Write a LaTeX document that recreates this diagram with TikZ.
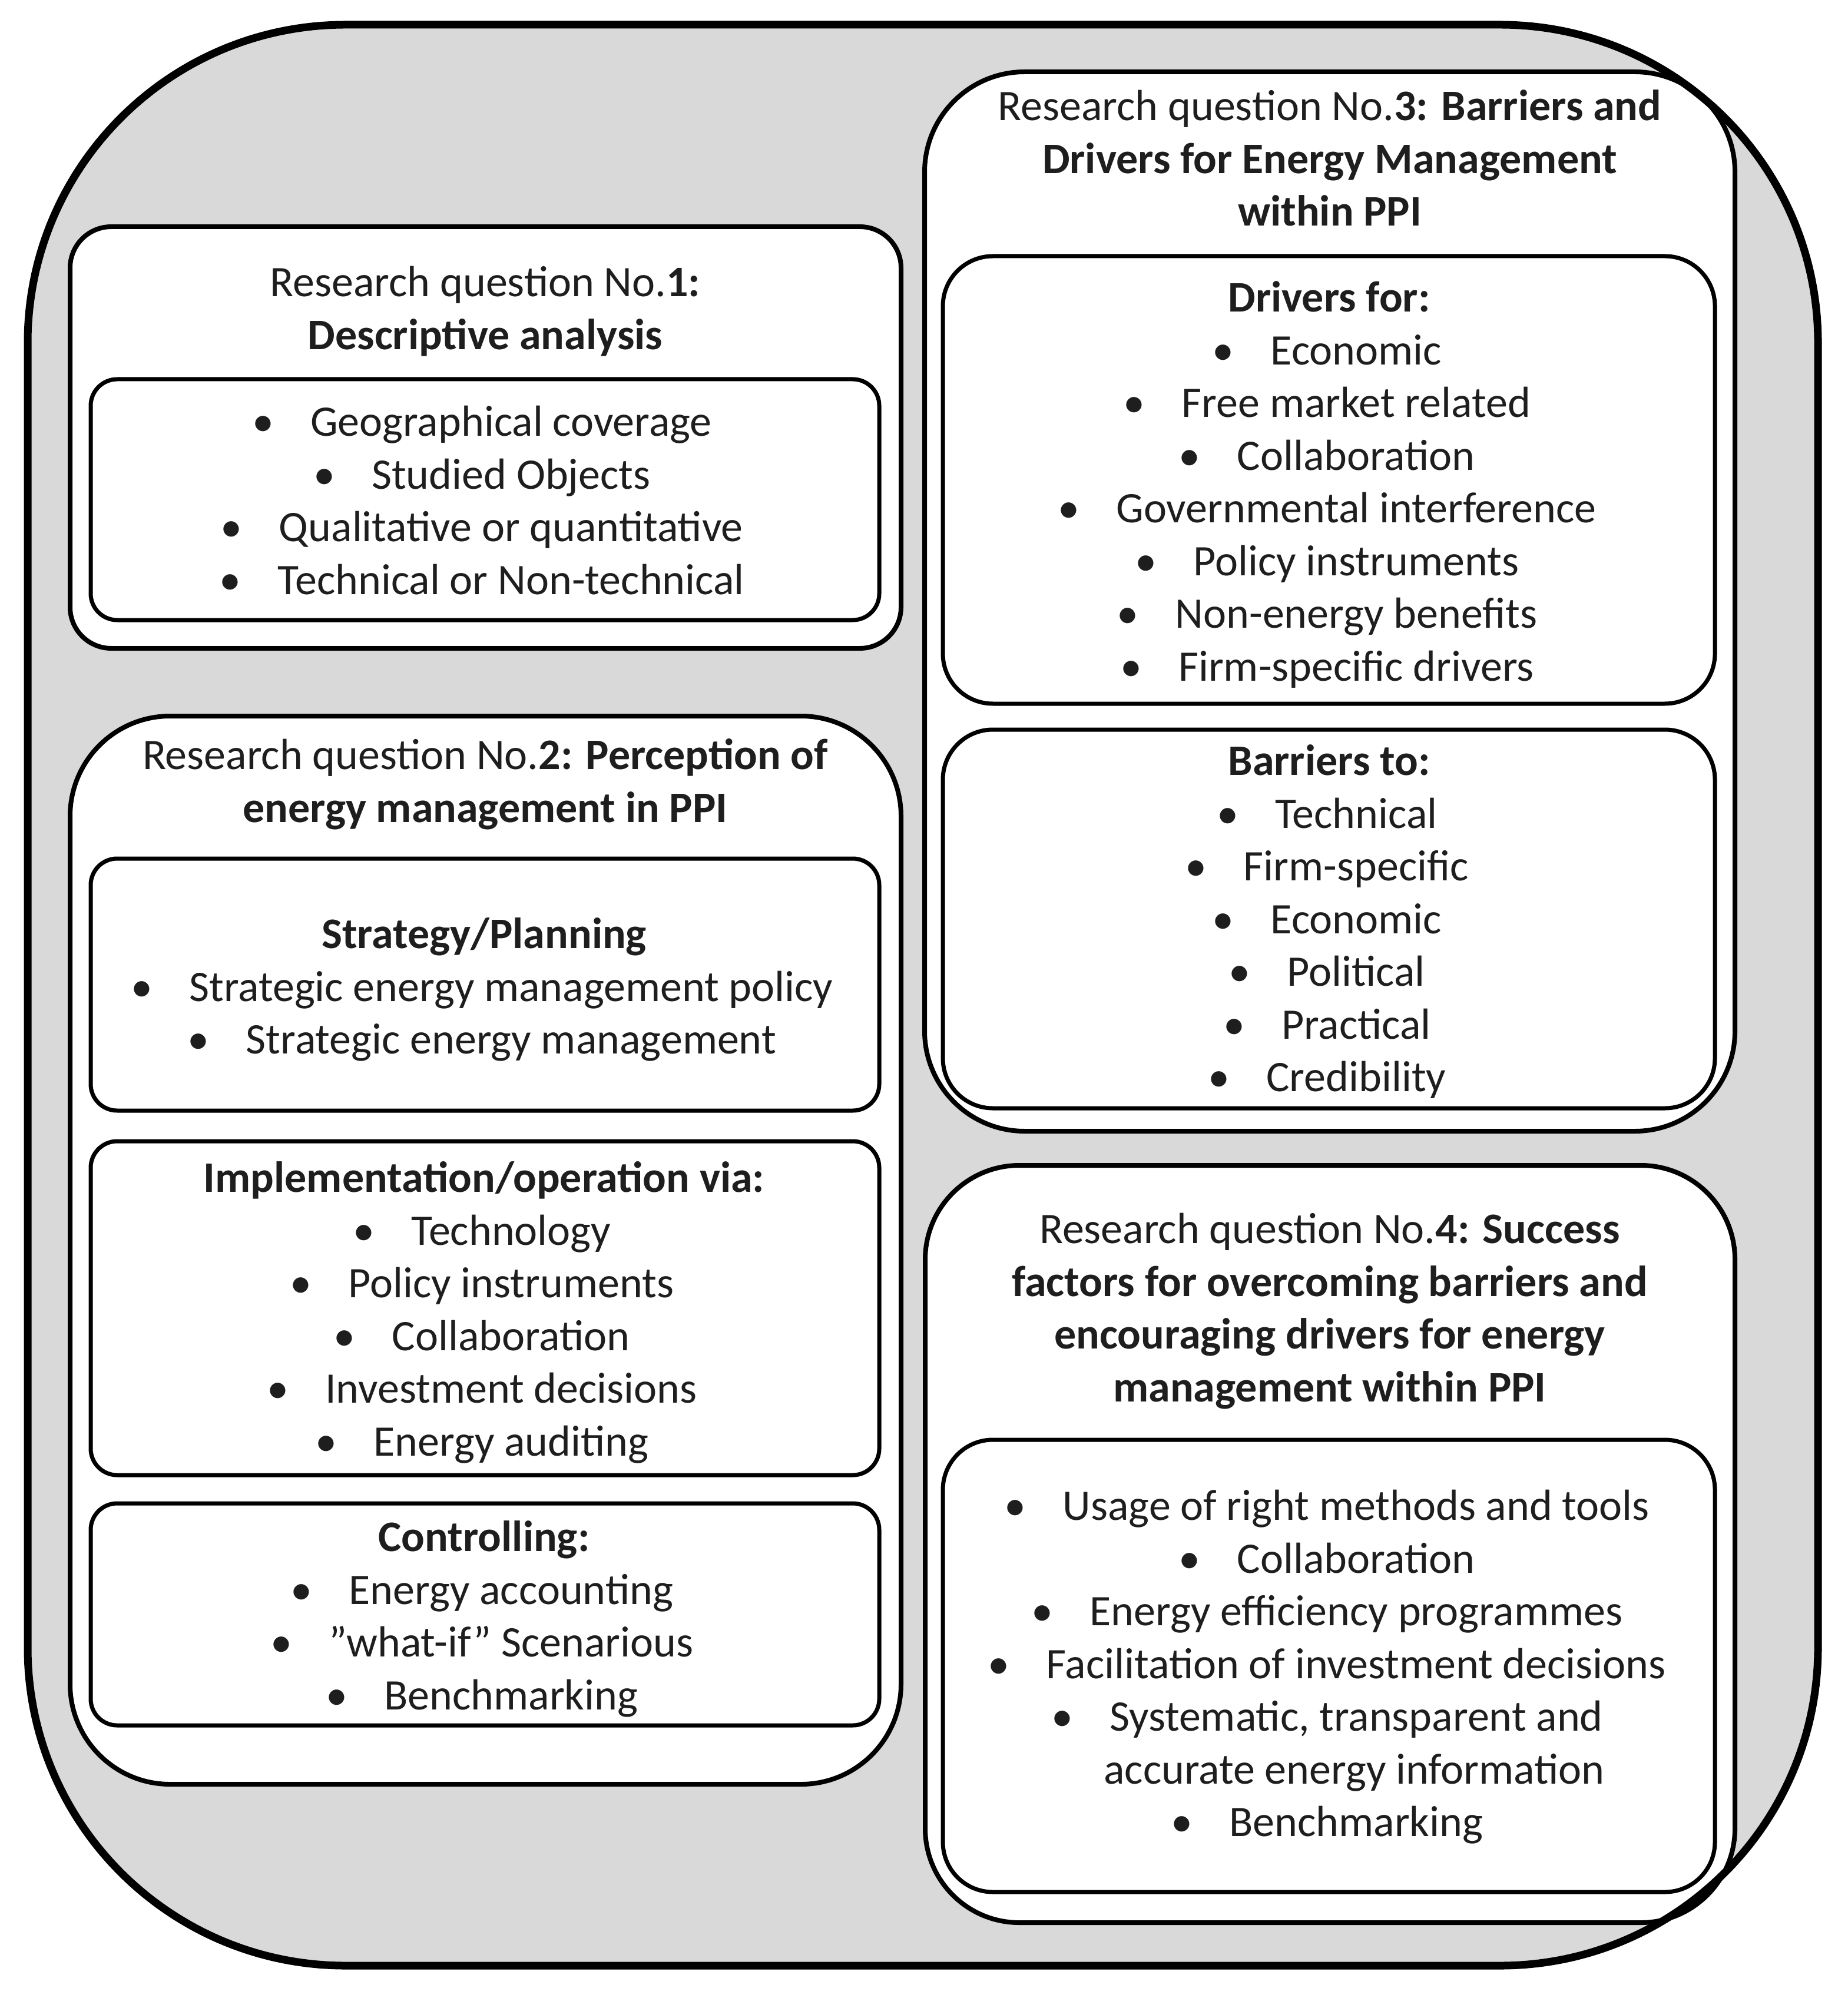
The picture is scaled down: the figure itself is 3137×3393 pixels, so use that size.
\documentclass[tikz,border=0pt]{standalone}
\usepackage{fontspec}
\setmainfont{Carlito}
\definecolor{outergray}{HTML}{D9D9D9}
\definecolor{txtcol}{HTML}{1E1E1E}
\newcommand{\bl}{\makebox[0.3em][c]{•}\hspace{0.94em}}
\begin{document}
\begin{tikzpicture}[x=0.2pt,y=-0.2pt]
\tikzset{
  outerline/.style={line width=2.6pt, rounded corners=108pt},
  rqbox/.style={draw, fill=white, line width=1.6pt},
  subbox/.style={draw, fill=white, line width=1.4pt},
  txt/.style={inner sep=0pt, align=center, anchor=north, text=txtcol,
    font=\fontsize{14.8}{17.9}\selectfont},
}
\useasboundingbox (0,0) rectangle (3137,3393);
% outer container
\path[fill=outergray, rounded corners=108pt] (47,42) rectangle (3087,3338);
% research question boxes
\draw[rqbox, rounded corners=14pt] (119,385) rectangle (1530,1101);
\draw[rqbox, rounded corners=34pt] (119,1216) rectangle (1530,3030);
\draw[rqbox, rounded corners=34pt] (1570,122) rectangle (2946,1921);
\draw[rqbox, rounded corners=32pt] (1571,1979) rectangle (2946,3265);
% inner boxes
\draw[subbox, rounded corners=9pt] (154,644) rectangle (1493,1053);
\draw[subbox, rounded corners=9pt] (154,1458) rectangle (1493,1886);
\draw[subbox, rounded corners=9pt] (154,1938) rectangle (1493,2505);
\draw[subbox, rounded corners=9pt] (154,2553) rectangle (1493,2930);
\draw[subbox, rounded corners=17pt] (1601,435) rectangle (2912,1195);
\draw[subbox, rounded corners=17pt] (1601,1239) rectangle (2912,1882);
\draw[subbox, rounded corners=17pt] (1601,2445) rectangle (2912,3213);
% outer border on top
\draw[outerline] (47,42) rectangle (3087,3338);

% texts
\node[txt] (rq1title) at (824,440) {\strut Research question No.\textbf{1:}\\\textbf{Descriptive analysis}};
\node[txt] (rq1list) at (822,677) {\strut\bl Geographical coverage\\\bl Studied Objects\\\bl Qualitative or quantitative\\\bl Technical or Non-technical};

\node[txt] (rq2title) at (824,1243) {\strut Research question No.\textbf{2: Perception of}\\\textbf{energy management in PPI}};
\node[txt] (strategy) at (822,1547) {\strut\textbf{Strategy/Planning}\\\bl Strategic energy management policy\\\bl Strategic energy management};
\node[txt] (impl) at (822,1961) {\strut\textbf{Implementation/operation via:}\\\bl Technology\\\bl Policy instruments\\\bl Collaboration\\\bl Investment decisions\\\bl Energy auditing};
\node[txt] (control) at (822,2571) {\strut\textbf{Controlling:}\\\bl Energy accounting\\\bl ”what-if” Scenarious\\\bl Benchmarking};

\node[txt] (rq3title) at (2258,141) {\strut Research question No.\textbf{3: Barriers and}\\\textbf{Drivers for Energy Management}\\\textbf{within PPI}};
\node[txt] (drivers) at (2257,466) {\strut\textbf{Drivers for:}\\\bl Economic\\\bl Free market related\\\bl Collaboration\\\bl Governmental interference\\\bl Policy instruments\\\bl Non-energy benefits\\\bl Firm-specific drivers};
\node[txt] (barriers) at (2257,1253) {\strut\textbf{Barriers to:}\\\bl Technical\\\bl Firm-specific\\\bl Economic\\\bl Political\\\bl Practical\\\bl Credibility};

\node[txt] (rq4title) at (2258,2048) {\strut Research question No.\textbf{4: Success}\\\textbf{factors for overcoming barriers and}\\\textbf{encouraging drivers for energy}\\\textbf{management within PPI}};
\node[txt] (rq4list) at (2257,2518) {\strut\bl Usage of right methods and tools\\\bl Collaboration\\\bl Energy efficiency programmes\\\bl Facilitation of investment decisions\\\bl Systematic, transparent and\\\hspace*{17pt}accurate energy information\\\bl Benchmarking};
\end{tikzpicture}
\end{document}
